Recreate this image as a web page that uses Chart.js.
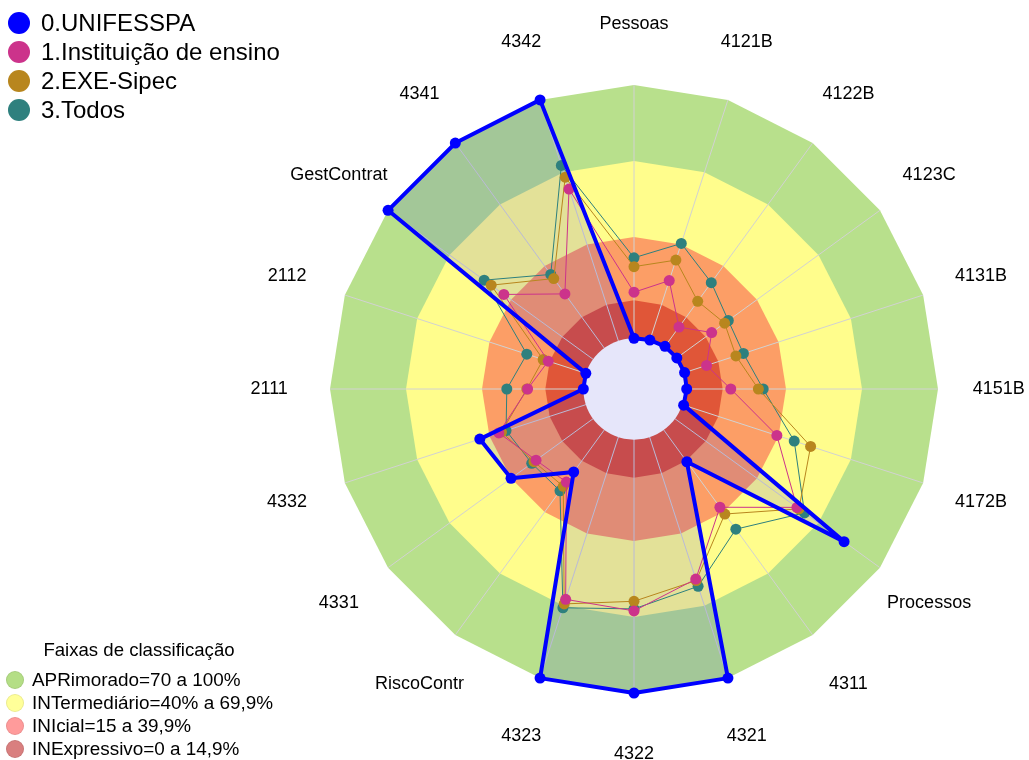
<!DOCTYPE html>
<html lang="pt-BR">
<head>
<meta charset="utf-8">
<title>Radar UNIFESSPA</title>
<script src="https://cdn.jsdelivr.net/npm/chart.js@4.4.1/dist/chart.umd.min.js"></script>
<style>
  body { margin: 0; background: #fff; font-family: "Liberation Sans", Arial, sans-serif; color: #000; }
  #wrap { position: relative; width: 1029px; height: 760px; overflow: hidden; }
  #radar { position: absolute; left: 0; top: 0; }
  .serie { position: absolute; left: 8px; height: 29px; display: flex; align-items: center; font-size: 24px; white-space: nowrap; }
  .serie span { width: 22px; height: 22px; border-radius: 50%; margin-right: 11px; flex: none; }
  .faixas-titulo { position: absolute; left: 0; width: 278px; top: 639px; text-align: center; font-size: 18.6px; }
  .faixa { position: absolute; left: 6px; height: 23px; display: flex; align-items: center; font-size: 18.9px; white-space: nowrap; }
  .faixa span { width: 18px; height: 18px; border-radius: 50%; margin-right: 8px; flex: none; box-sizing: border-box; border: 1px solid rgba(0,0,0,0.08); }
</style>
</head>
<body>
<div id="wrap">
  <canvas id="radar" width="1029" height="760"></canvas>

  <div class="serie" style="top:8px"><span style="background:#0000ff"></span>0.UNIFESSPA</div>
  <div class="serie" style="top:37px"><span style="background:#cc338b"></span>1.Instituição de ensino</div>
  <div class="serie" style="top:66px"><span style="background:#b8861e"></span>2.EXE-Sipec</div>
  <div class="serie" style="top:95px"><span style="background:#2e807e"></span>3.Todos</div>

  <div class="faixas-titulo">Faixas de classificação</div>
  <div class="faixa" style="top:668px"><span style="background:#b4de86"></span>APRimorado=70 a 100%</div>
  <div class="faixa" style="top:691px"><span style="background:#ffff99"></span>INTermediário=40% a 69,9%</div>
  <div class="faixa" style="top:714px"><span style="background:#ff9b9b"></span>INIcial=15 a 39,9%</div>
  <div class="faixa" style="top:737px"><span style="background:#d97f7f"></span>INExpressivo=0 a 14,9%</div>
</div>

<script>
// eixos do radar, no sentido horário a partir do topo
const eixos = ["Pessoas", "4121B", "4122B", "4123C", "4131B", "4151B", "4172B", "Processos",
  "4311", "4321", "4322", "4323", "RiscoContr", "4331", "4332", "2111", "2112",
  "GestContrat", "4341", "4342"];

const unifesspa   = [0, 0.3, 0.8, 0.9, 1, 0.8, 0.6, 82.5, 15.5, 100, 100, 100, 20.5, 40, 44, 0, 0, 100, 100, 100];
const instituicao = [18.2, 25, 10.2, 17.9, 10.1, 18.2, 39.3, 59.5, 37.7, 58.9, 67.6, 67.3, 25.4, 27.8, 36.1, 22, 15.6, 43.5, 26.4, 63];
const exeSipec    = [28.3, 33.5, 22.8, 24.2, 22.3, 29.1, 53.3, 60.5, 41, 59.5, 63.8, 69.2, 27.5, 28.8, 35, 22.3, 17.7, 49.7, 33.9, 67.9];
const todos       = [31.8, 40.4, 31.9, 26, 25.4, 31, 46.5, 63.2, 48.4, 61.9, 66.8, 70.8, 29.7, 29.9, 33.1, 30.2, 24.5, 53.1, 35.9, 72.8];

// faixas de classificação (limite superior de cada faixa)
const faixaLimites = [100, 70, 40, 15];
const faixaCores = ["#b8e08c", "#fffd8c", "#fc9e66", "#e05638"];

const faixasPlugin = {
  id: "faixas",
  beforeDraw(chart) {
    const s = chart.scales.r;
    const ctx = chart.ctx;
    ctx.save();
    faixaLimites.forEach((lim, k) => {
      ctx.beginPath();
      for (let i = 0; i < eixos.length; i++) {
        const p = s.getPointPositionForValue(i, lim);
        if (i === 0) ctx.moveTo(p.x, p.y);
        else ctx.lineTo(p.x, p.y);
      }
      ctx.closePath();
      ctx.fillStyle = faixaCores[k];
      ctx.fill();
    });
    ctx.restore();
  },
  beforeDatasetsDraw(chart) {
    // miolo lilás no centro
    const s = chart.scales.r;
    const ctx = chart.ctx;
    ctx.save();
    ctx.beginPath();
    ctx.arc(s.xCenter, s.yCenter, s.getDistanceFromCenterForValue(0), 0, Math.PI * 2);
    ctx.fillStyle = "#e6e6fa";
    ctx.fill();
    ctx.restore();
  },
  afterDatasetsDraw(chart) {
    const s = chart.scales.r;
    const ctx = chart.ctx;
    ctx.save();
    ctx.font = '18px "Liberation Sans", Arial, sans-serif';
    ctx.fillStyle = "#000";
    ctx.textAlign = "center";
    ctx.textBaseline = "middle";
    eixos.forEach((nome, i) => {
      const p = s.getPointPosition(i, s.drawingArea * 1.2);
      ctx.fillText(nome, p.x, p.y);
    });
    ctx.restore();
  },
};

function serie(label, data, cor, extra) {
  return Object.assign({
    label: label,
    data: data,
    borderColor: cor,
    backgroundColor: cor,
    pointBackgroundColor: cor,
    pointBorderWidth: 0,
    pointRadius: 5.5,
    borderWidth: 1,
    fill: false,
    clip: false,
  }, extra || {});
}

new Chart(document.getElementById("radar"), {
  type: "radar",
  data: {
    labels: eixos,
    datasets: [
      serie("0.UNIFESSPA", unifesspa, "#0000ff", {
        backgroundColor: "rgba(0,0,255,0.11)",
        fill: "start",
        borderWidth: 4,
        pointRadius: 5.5,
        borderJoinStyle: "round",
      }),
      serie("1.Instituição de ensino", instituicao, "#cc338b"),
      serie("2.EXE-Sipec", exeSipec, "#b8861e"),
      serie("3.Todos", todos, "#2e807e"),
    ],
  },
  options: {
    responsive: false,
    animation: false,
    layout: { padding: { left: 330, right: 91, top: 85, bottom: 67 } },
    scales: {
      r: {
        min: -20,
        max: 100,
        ticks: { display: false },
        grid: { display: false },
        angleLines: { display: true, color: "#d2d2d2", lineWidth: 1 },
        pointLabels: { display: false },
      },
    },
    plugins: {
      legend: { display: false },
      tooltip: { enabled: false },
      filler: { drawTime: "beforeDatasetsDraw" },
    },
    elements: { line: { tension: 0 } },
  },
  plugins: [faixasPlugin],
});
</script>
</body>
</html>
